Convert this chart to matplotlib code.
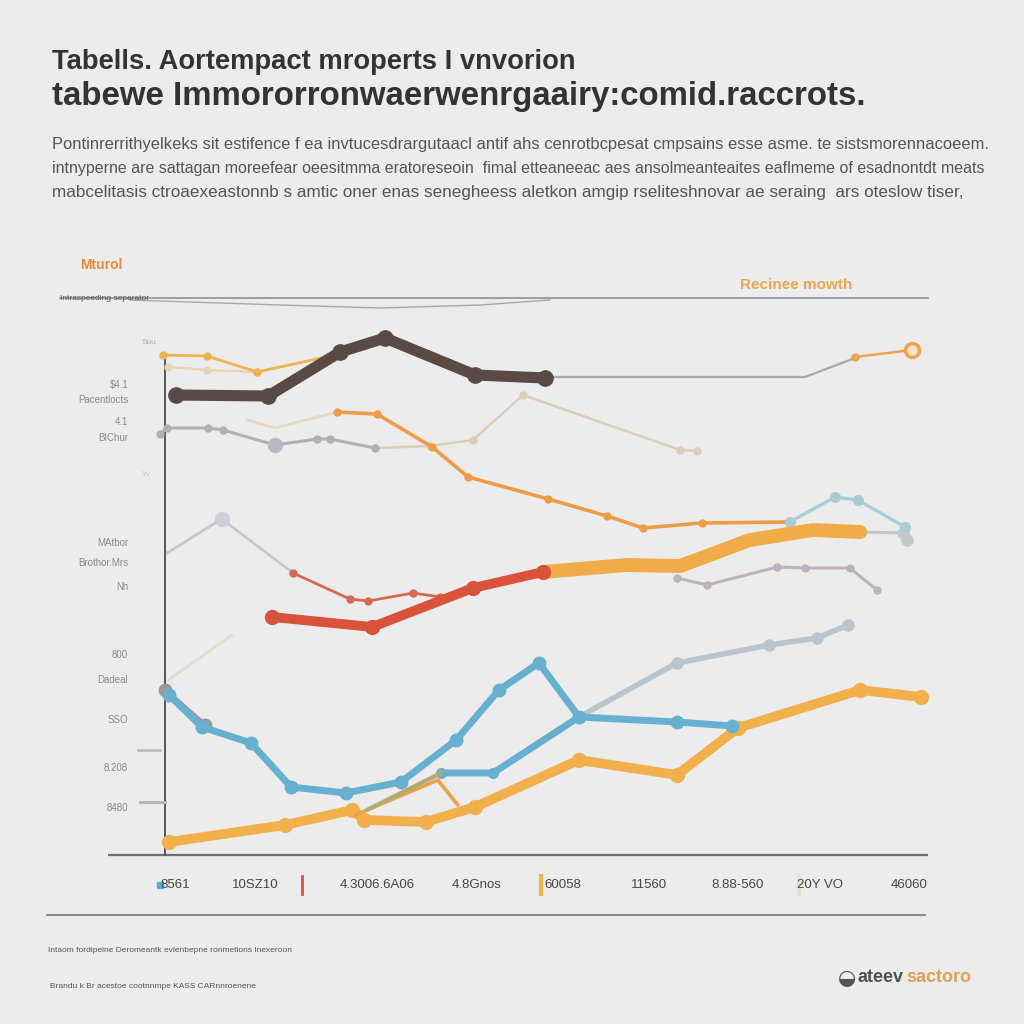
import matplotlib
matplotlib.use("Agg")
import matplotlib.pyplot as plt

plt.rcParams['font.family'] = ['Liberation Sans', 'DejaVu Sans']

BG = '#ececec'

# ---------------- data (x: period index scale, y: value scale) ----------------
brown_x = [1.4, 12.9, 21.9, 27.5, 38.75, 47.5]
brown_y = [92, 91.8, 100.6, 103.4, 96, 95.4]

grayflat_x = [47.5, 80, 86.25]
grayflat_y = [95.6, 95.6, 99.4]

orange_end_x = [86.25, 93.4]
orange_end_y = [99.6, 101]

yellow_top_x = [-0.25, 5.25, 11.5, 21.25]
yellow_top_y = [100, 99.8, 96.6, 100]

beige_top_x = [0.4, 5.25, 11.5]
beige_top_y = [97.6, 97, 96.6]

gray_mid_x = [-0.6, 0.25, 5.4, 7.25, 13.75, 19, 20.6, 26.25]
gray_mid_y = [84.2, 85.4, 85.4, 85, 82, 83.2, 83.2, 81.4]

beige_mid_x = [26.25, 33.1, 38.5, 44.75, 64.4, 66.5]
beige_mid_y = [81.4, 81.8, 83, 92, 81, 80.8]

beige_faint_x = [10.25, 13.75, 21.5]
beige_faint_y = [87, 85.4, 88.6]

orange_x = [21.5, 26.5, 33.4, 37.9, 47.9, 55.25, 59.75, 67.1, 78.1]
orange_y = [88.6, 88.2, 81.6, 75.6, 71.2, 67.8, 65.4, 66.4, 66.6]

lightblue_x = [78.1, 83.75, 86.6, 92.5]
lightblue_y = [66.6, 71.6, 71, 65.6]

gold_x = [47.25, 57.75, 64.4, 73.1, 81, 86.9]
gold_y = [56.6, 58, 57.8, 63, 65, 64.6]

gray_tail_x = [86.9, 92.25, 92.75]
gray_tail_y = [64.6, 64.4, 63]

lavender_x = [64, 67.75, 76.5, 80, 85.6, 89]
lavender_y = [55.4, 54, 57.6, 57.4, 57.4, 53]

grayv_x = [0.25, 7.1, 16]
grayv_y = [60.4, 67.2, 56.4]

redthin_x = [16, 23.1, 25.4, 31, 34.4]
redthin_y = [56.4, 51.2, 50.8, 52.4, 51.6]

red_x = [13.4, 25.9, 38.5, 47.25]
red_y = [47.6, 45.6, 53.4, 56.6]

blue_x = [0.5, 4.6, 10.75, 15.75, 22.6, 29.5, 36.4, 41.75, 46.75, 51.75, 64, 70.9]
blue_y = [32, 25.6, 22.4, 13.6, 12.4, 14.6, 23, 33, 38.4, 27.6, 26.6, 25.8]

blue2_x = [34.5, 41, 51.75]
blue2_y = [16.4, 16.4, 27.6]

grayblue_x = [51.75, 64, 75.5, 81.5, 85.4]
grayblue_y = [27.6, 38.4, 42, 43.4, 46]

olive_x = [25.25, 34.5]
olive_y = [9, 16.4]

graystart_x = [0, 5]
graystart_y = [33, 26]

faint_x = [0.4, 8.4]
faint_y = [35, 44]

goldb_x = [0.5, 15, 23.4, 24.9, 32.6, 38.75, 51.75, 64, 71.6, 86.9, 94.5]
goldb_y = [2.6, 6, 9, 7, 6.6, 9.6, 19, 16, 25.4, 33, 31.6]

kink_x = [23.75, 34.1, 36.6]
kink_y = [8, 15, 10]

x_tick_pos = [1.25, 11.25, 26.5, 39, 49.75, 60.5, 71.6, 81.9, 93]
x_tick_labels = ['8561', '10SZ10', '4.3006.6A06', '4.8Gnos', '60058', '11560', '8.88-560', '20Y VO', '46060']

y_tick_labels = ['$4.1', 'Pacentlocts', '4.1', 'BIChur', 'MAtbor', 'Brothor.Mrs', 'Nh',
                 '800', 'Dadeal', 'SSO', '8.208', '8480']
y_tick_pos = [94, 91, 86.6, 83.4, 62.4, 58.4, 53.6, 40, 35, 27, 17.4, 9.4]

# ---------------- figure ----------------
fig = plt.figure(figsize=(10.24, 10.24), dpi=100, facecolor=BG)
ax = fig.add_axes([0, 0, 1, 1])
ax.set_facecolor(BG)
ax.set_xlim((0 - 165) / 8, (1024 - 165) / 8)
ax.set_ylim((855 - 1024) / 5, 855 / 5)
ax.axis('off')


def T(px, py, s, **kw):
    fig.text(px / 1024, 1 - py / 1024, s, **kw)


# axes lines
ax.plot([-7.1, 95.4], [0, 0], color='#707070', lw=1.6, solid_capstyle='butt')
ax.plot([0, 0], [0, 99], color='#555555', lw=1.4)
ax.plot([-13.1, 95.4], [111.4, 111.4], color='#909090', lw=1.2)
ax.plot([-4.4, 14.4, 26.9, 39.4, 48.1], [111, 110, 109.4, 110, 111], color='#a8a8a8', lw=1.0)
ax.plot([-3.4, -0.6], [21, 21], color='#c0c0c0', lw=2)
ax.plot([-3.1, 0], [10.6, 10.6], color='#b8b8b8', lw=2.2)


def line(x, y, color, lw, ms=0, alpha=1.0, z=2):
    ax.plot(x, y, color=color, lw=lw, marker='o' if ms else None, ms=ms,
            alpha=alpha, solid_joinstyle='round', solid_capstyle='round', zorder=z)


# background faint lines
line(faint_x, faint_y, '#e2dccc', 2.0, 0, z=1)
line(graystart_x, graystart_y, '#9a9a9a', 3.5, 9, z=3)
line(grayv_x, grayv_y, '#c8c8cc', 2.0, 0, z=1)
ax.plot([7.1], [67.2], 'o', color='#cfcfd6', ms=10, zorder=2)
line(beige_faint_x, beige_faint_y, '#e4d8bf', 2.0, 0, z=1)
line(beige_top_x, beige_top_y, '#e6d5b5', 1.8, 5, z=2)
line(yellow_top_x, yellow_top_y, '#ebb44e', 2.0, 5, z=2)
line(gray_mid_x, gray_mid_y, '#b0b0b6', 2.2, 5, z=2)
ax.plot([13.75], [82], 'o', color='#b8b8c0', ms=10, zorder=2)
line(beige_mid_x, beige_mid_y, '#dccfb8', 1.8, 5, z=1)
line(grayflat_x, grayflat_y, '#a8a8ae', 1.6, 0, z=2)
line(orange_end_x, orange_end_y, '#eda44a', 1.8, 0, z=3)
ax.plot([86.25], [99.6], 'o', color='#eda44a', ms=5, zorder=3)
ax.plot([93.4], [101], 'o', mfc='#f6e2c8', mec='#eda44a', mew=2.5, ms=10, zorder=3)
line(brown_x, brown_y, '#5a4a45', 8, 11, z=4)
line(orange_x, orange_y, '#ee9c47', 2.6, 5, z=3)
line(lightblue_x, lightblue_y, '#a9cdd6', 2.4, 7, z=3)
line(lavender_x, lavender_y, '#bcb3bc', 2.2, 5, z=2)
line(gold_x, gold_y, '#f0ac48', 10, 0, z=3)
line(gray_tail_x, gray_tail_y, '#c4c8cc', 2.2, 8, z=2)
line(redthin_x, redthin_y, '#d46a52', 2.0, 5, z=3)
line(red_x, red_y, '#d9523a', 7, 10, z=4)
line(grayblue_x, grayblue_y, '#bcc5cd', 4, 8, z=2)
line(blue_x, blue_y, '#68b0d0', 5, 9, z=4)
line(blue2_x, blue2_y, '#68b0d0', 5, 7, z=4)
line(olive_x, olive_y, '#b4aa74', 3, 0, z=4)
line(goldb_x, goldb_y, '#f2b04c', 7, 10, z=3)
line(kink_x, kink_y, '#eea04c', 2.6, 0, z=3)

# x tick labels
for xp, lab in zip(x_tick_pos, x_tick_labels):
    ax.text(xp, -6, lab, ha='center', va='center', fontsize=9.5, color='#454545')
# small coloured legend marks in the tick row
ax.plot([-0.6], [-6], 's', color='#5aaed0', ms=4)
ax.plot([17.1, 17.1], [-4.2, -7.8], color='#d9523a', lw=2)
ax.plot([47, 47], [-4.2, -7.8], color='#f0b44c', lw=3)
ax.plot([79.3, 79.3], [-4.2, -7.8], color='#e4e0cc', lw=3)

# y tick labels
for yp, lab in zip(y_tick_pos, y_tick_labels):
    ax.text(-4.6, yp, lab, ha='right', va='center', fontsize=7, color='#8a8a8a')
ax.text(-1.2, 76, 'Yv..', ha='right', va='center', fontsize=6, color='#c8c8c8')
ax.text(-2.0, 102.6, 'Suu', ha='center', va='center', fontsize=6, color='#b0b0b0')

# titles
T(52, 62, 'Tabells. Aortempact mroperts I vnvorion', fontsize=19.7, fontweight='bold',
  color='#333333', va='center', ha='left')
T(52, 96, 'tabewe Immororronwaerwenrgaairy:comid.raccrots.', fontsize=23.8, fontweight='bold',
  color='#333333', va='center', ha='left')

body = [
    'Pontinrerrithyelkeks sit estifence f ea invtucesdrargutaacl antif ahs cenrotbcpesat cmpsains esse asme. te sistsmorennacoeem.',
    'intnyperne are sattagan moreefear oeesitmma eratoreseoin  fimal etteaneeac aes ansolmeanteaites eaflmeme of esadnontdt meats',
    'mabcelitasis ctroaexeastonnb s amtic oner enas senegheess aletkon amgip rseliteshnovar ae seraing  ars oteslow tiser,',
]
body_sizes = [11.9, 11.5, 12.3]
for i, s in enumerate(body):
    T(52, 145 + i * 24, s, fontsize=body_sizes[i], color='#555555', va='center', ha='left')

T(80, 265, 'Mturol', fontsize=10, fontweight='bold', color='#e8883a', va='center', ha='left')
T(740, 285, 'Recinee mowth', fontsize=11, fontweight='bold', color='#e8a850', va='center', ha='left')
T(60, 298, 'Intraspeeding separator', fontsize=6, color='#555555', va='center', ha='left')

# bottom rule and footer
fig.add_artist(plt.Line2D([47 / 1024, 925 / 1024], [1 - 915 / 1024, 1 - 915 / 1024],
                          color='#777777', lw=1.2))
T(48, 950, 'Intaom fordipeine Deromeantk evlenbepne ronmetions Inexeroon', fontsize=6,
  color='#555555', va='center', ha='left')
T(50, 987, 'Brandu k Br acestoe cootnnmpe KASS CARnnroenene', fontsize=6,
  color='#555555', va='center', ha='left')
T(838, 978, '\u25D2', fontsize=15, color='#555555', va='center', ha='left', family='DejaVu Sans')
T(857, 978, 'ateev', fontsize=13, fontweight='bold', color='#505050', va='center', ha='left')
T(906, 978, 'sactoro', fontsize=13, fontweight='bold', color='#e0a050', va='center', ha='left')

fig.savefig('out.png', dpi=100, facecolor=BG)
